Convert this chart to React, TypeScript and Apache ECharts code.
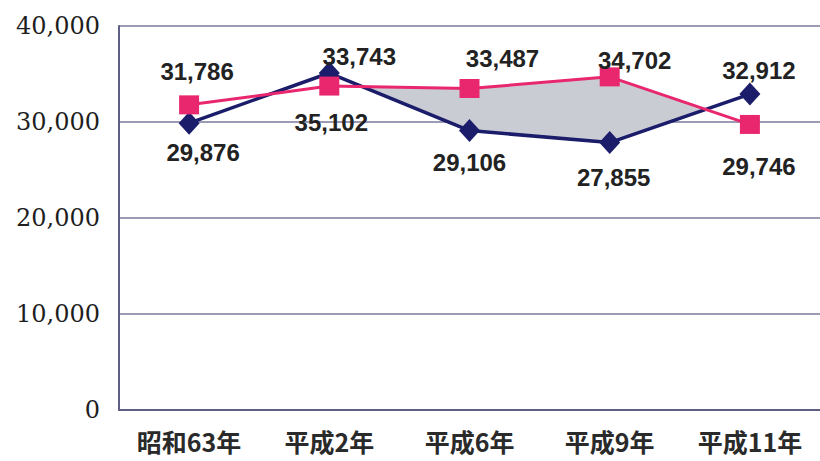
import React, { useEffect, useRef } from "react";
import * as echarts from "echarts";

const categories = ["昭和63年", "平成2年", "平成6年", "平成9年", "平成11年"];
const navyValues = [29876, 35102, 29106, 27855, 32912];
const pinkValues = [31786, 33743, 33487, 34702, 29746];
const yTicks = { min: 0, max: 40000, interval: 10000 };

// label offsets (styling only)
const navyLabelOffsets: [number, number][] = [[14, 29], [2, 49], [0, 32], [4, 35], [9, -24]];
const pinkLabelOffsets: [number, number][] = [[8, -33], [30, -30], [33, -30], [25, -16], [9, 42]];
// shading between the lines starts from this category index
const shadeFrom = 1;

const NAVY = "#1b1d6b";
const PINK = "#e8276f";

export default function App() {
  const ref = useRef<HTMLDivElement>(null);
  useEffect(() => {
    if (!ref.current) return;
    const chart = echarts.init(ref.current, null, { renderer: "svg" });
    const labelStyle = {
      show: true,
      position: "inside",
      fontFamily: "Liberation Sans",
      fontWeight: "bold",
      fontSize: 24,
      color: "#222",
      formatter: (p: any) => Number(p.value).toLocaleString("en-US"),
    };
    const mk = (vals: number[], offs: [number, number][]) =>
      vals.map((v, i) => ({ value: v, label: { ...labelStyle, offset: offs[i] } }));

    chart.setOption({
      animation: false,
      grid: { left: 119, right: -4, top: 26, bottom: 51 },
      xAxis: {
        type: "category",
        data: categories,
        axisLine: { lineStyle: { color: "#5f5f86", width: 2 } },
        axisTick: { show: false },
        axisLabel: {
          margin: 18,
          fontFamily: "Noto Sans CJK JP",
          fontWeight: "bold",
          fontSize: 25,
          color: "#2a2a2a",
        },
      },
      yAxis: {
        type: "value",
        min: yTicks.min,
        max: yTicks.max,
        interval: yTicks.interval,
        axisLine: { show: true, lineStyle: { color: "#5f5f86", width: 2 } },
        axisTick: { show: false },
        splitLine: { lineStyle: { color: "#7a7a9c", width: 1.5 } },
        axisLabel: {
          margin: 19,
          fontFamily: "DejaVu Serif",
          fontSize: 24,
          color: "#1e1e1e",
          formatter: (v: number) => v.toLocaleString("en-US"),
        },
      },
      series: [
        {
          type: "custom",
          z: 1,
          silent: true,
          data: [0],
          renderItem: (params: any, api: any) => {
            const top = pinkValues.map((v, i) => api.coord([i, v]));
            const bot = navyValues.map((v, i) => api.coord([i, v]));
            const polys: number[][][] = [];
            let upper: number[][] = [];
            let lower: number[][] = [];
            for (let i = shadeFrom; i < categories.length; i++) {
              const d = pinkValues[i] - navyValues[i];
              if (d > 0) {
                upper.push(top[i]);
                lower.push(bot[i]);
              }
              if (i < categories.length - 1) {
                const dn = pinkValues[i + 1] - navyValues[i + 1];
                if ((d > 0) !== (dn > 0)) {
                  const t = d / (d - dn);
                  const p = [
                    top[i][0] + (top[i + 1][0] - top[i][0]) * t,
                    top[i][1] + (top[i + 1][1] - top[i][1]) * t,
                  ];
                  upper.push(p);
                  lower.push(p);
                  if (d > 0) {
                    polys.push([...upper, ...lower.slice().reverse()]);
                    upper = [];
                    lower = [];
                  }
                }
              }
            }
            if (upper.length) polys.push([...upper, ...lower.slice().reverse()]);
            return {
              type: "group",
              children: polys.map((pts) => ({
                type: "polygon",
                shape: { points: pts },
                style: { fill: "#c9ccd3" },
              })),
            };
          },
        },
        {
          type: "line",
          z: 3,
          data: mk(navyValues, navyLabelOffsets),
          symbol: "diamond",
          symbolSize: [21, 23],
          lineStyle: { color: NAVY, width: 3.5 },
          itemStyle: { color: NAVY },
        },
        {
          type: "line",
          z: 4,
          data: mk(pinkValues, pinkLabelOffsets),
          symbol: "rect",
          symbolSize: [20, 19],
          lineStyle: { color: PINK, width: 3 },
          itemStyle: { color: PINK },
        },
      ],
    });
    return () => chart.dispose();
  }, []);
  return (
    <div
      ref={ref}
      style={{ position: "absolute", left: 0, top: 0, width: 820, height: 461, background: "#fff" }}
    />
  );
}
